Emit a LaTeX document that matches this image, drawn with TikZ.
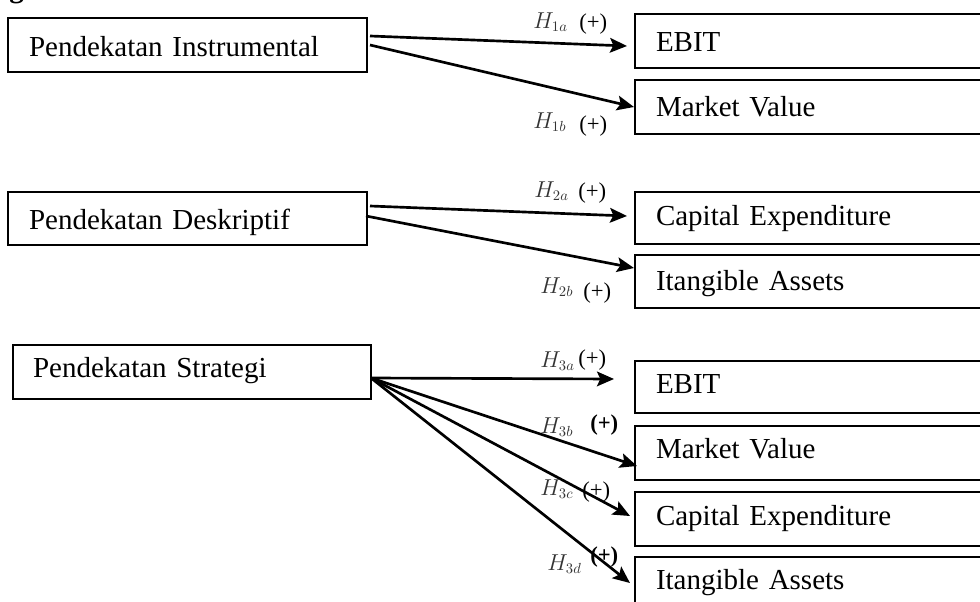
\documentclass[tikz,border=0pt]{standalone}
\usepackage{fontspec}
\setmainfont{Liberation Serif}
\usetikzlibrary{arrows.meta,calc}
\begin{document}
\begin{tikzpicture}[x=0.75pt,y=-0.75pt,
  bx/.style={draw, line width=1.4pt, rectangle, anchor=north west, inner xsep=15.75pt, inner ysep=0pt, outer sep=0pt, align=left, font=\fontsize{21.75pt}{24pt}\selectfont},
  lbox/.style={bx, text width=237.75pt},
  rbox/.style={bx, text width=268.5pt},
  hl/.style={anchor=west, inner sep=0pt, text=black!80, font=\fontsize{16pt}{18pt}\selectfont},
  pl/.style={anchor=west, inner sep=0pt, font=\fontsize{17pt}{19pt}\selectfont},
  arr/.style={line width=2pt, -{Stealth[length=12.75pt,width=11pt,inset=2.5pt]}}
]
\useasboundingbox (0,0) rectangle (980,602);
\begin{scope}
\clip (0,0) rectangle (980,602);
\node[anchor=base west, inner sep=0pt, font=\fontsize{21.75pt}{24pt}\selectfont\bfseries] (g) at (9,-2) {g};

% group 1
\node[lbox, text height=29.25pt, text depth=11.25pt] (inst) at (8,18) {Pendekatan Instrumental};
\node[rbox, text height=28.5pt, text depth=12pt] (ebit1) at (635,14) {EBIT};
\node[rbox, text height=27.75pt, text depth=12.75pt] (mv1) at (635,80) {Market Value};

% group 2
\node[lbox, text height=27.75pt, text depth=12pt] (desk) at (8,192) {Pendekatan Deskriptif};
\node[rbox, text height=24.75pt, text depth=14.25pt] (capex2) at (635,192) {Capital Expenditure};
\node[rbox, text height=26.25pt, text depth=13.5pt] (itang2) at (635,255) {Itangible Assets};

% group 3
\node[bx, inner xsep=15pt, text width=238.5pt, text height=24pt, text depth=16.5pt] (strat) at (13,345) {Pendekatan Strategi};
\node[rbox, text height=24pt, text depth=15pt] (ebit3) at (635,361) {EBIT};
\node[rbox, text height=24pt, text depth=16.5pt] (mv3) at (635,426) {Market Value};
\node[rbox, text height=24.75pt, text depth=15.75pt] (capex3) at (635,492) {Capital Expenditure};
\node[rbox, text height=24pt, text depth=16.5pt] (itang3) at (635,557) {Itangible Assets};

% arrows
\draw[arr] ($(inst.north east)+(3,18)$) -- ($(ebit1.north west)+(-8,32)$);
\draw[arr] ($(inst.north east)+(3,27)$) -- ($(mv1.north west)+(-1,27)$);
\draw[arr] ($(desk.north east)+(3,14)$) -- ($(capex2.north west)+(-8,24)$);
\draw[arr] ($(desk.north east)+(-1,24)$) -- ($(itang2.north west)+(-1,13)$);
\coordinate (s3) at ($(strat.north east)+(0,33)$);
\draw[arr] (s3) -- ($(ebit3.north west)+(-21,18)$);
\draw[arr] (s3) -- ($(mv3.north west)+(2,40)$);
\draw[arr] (s3) -- ($(capex3.north west)+(-5,24)$);
\draw[arr] (s3) -- ($(itang3.north west)+(-5,26)$);

% labels
\node[hl] (h1a) at (533,22) {$H_{1a}$};
\node[pl] (p1a) at (579,24) {(+)};
\node[hl] (h1b) at (533,122) {$H_{1b}$};
\node[pl] (p1b) at (579,126) {(+)};
\node[hl] (h2a) at (534,191) {$H_{2a}$};
\node[pl] (p2a) at (578,193) {(+)};
\node[hl] (h2b) at (540,287) {$H_{2b}$};
\node[pl] (p2b) at (583,293) {(+)};
\node[hl] (h3a) at (540,361) {$H_{3a}$};
\node[pl] (p3a) at (578,360) {(+)};
\node[hl] (h3b) at (540,427) {$H_{3b}$};
\node[pl] (p3b) at (590,425) {\textbf{(+)}};
\node[hl] (h3c) at (540,489) {$H_{3c}$};
\node[pl] (p3c) at (582,492) {(+)};
\node[hl] (h3d) at (547,564) {$H_{3d}$};
\node[pl] (p3d) at (590,557) {\textbf{(+)}};
\end{scope}
\end{tikzpicture}
\end{document}
